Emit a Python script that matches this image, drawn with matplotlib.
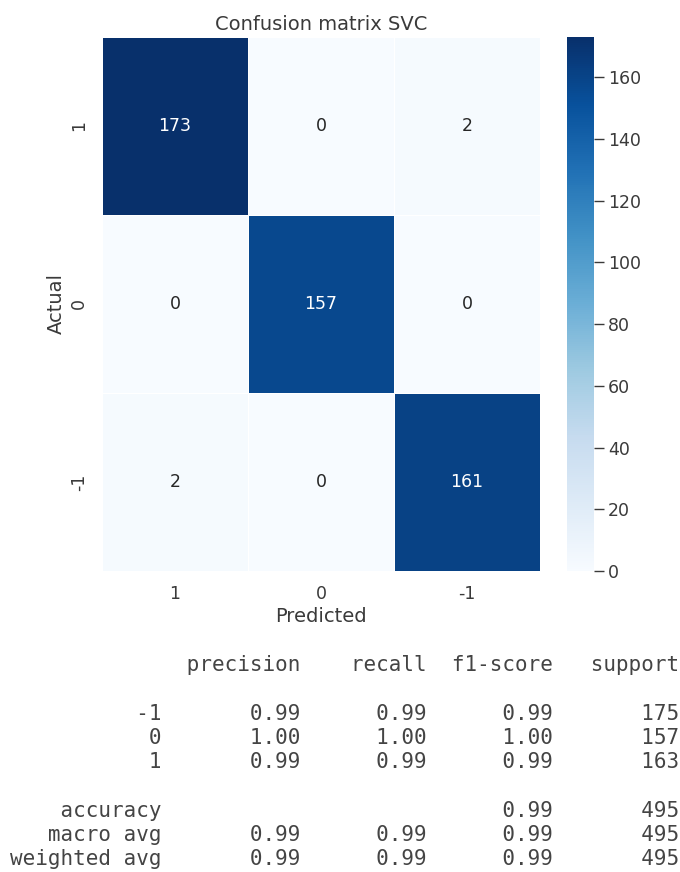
import matplotlib
matplotlib.use("Agg")
import matplotlib.pyplot as plt
import seaborn as sns
import numpy as np

# confusion matrix (rows = actual, cols = predicted)
labels = ["1", "0", "-1"]
cm = [[173, 0, 2],
      [0, 157, 0],
      [2, 0, 161]]

# classification report values
report_classes = ["-1", "0", "1"]
precision = [0.99, 1.00, 0.99]
recall = [0.99, 1.00, 0.99]
f1_score = [0.99, 1.00, 0.99]
support = [175, 157, 163]
accuracy = 0.99
macro_avg = [0.99, 0.99, 0.99]
weighted_avg = [0.99, 0.99, 0.99]
total = 495

sns.set_theme(style="white")
plt.rcParams['font.family'] = ['DejaVu Sans']

fig = plt.figure(figsize=(6.8, 8.72), dpi=100)
ax = fig.add_axes([0.150, 0.3452, 0.644, 0.6124])
cax = fig.add_axes([0.8338, 0.3452, 0.0397, 0.6124])

sns.heatmap(np.array(cm), annot=True, fmt="d", cmap="Blues", ax=ax, cbar_ax=cax,
            xticklabels=labels, yticklabels=labels, linewidths=0.5, linecolor="white",
            annot_kws={"fontsize": 12.5})
ax.set_title("Confusion matrix SVC", fontsize=14, color="#3a3a3a", pad=5)
ax.set_xlabel("Predicted", fontsize=14, color="#3a3a3a", labelpad=3)
ax.set_ylabel("Actual", fontsize=14, color="#3a3a3a", labelpad=3)
ax.tick_params(axis="both", length=0, labelsize=12.5, colors="#3a3a3a", pad=10)
plt.setp(ax.get_yticklabels(), rotation=90, va="center")
cax.tick_params(labelsize=12.5, colors="#3a3a3a", length=7, width=1, pad=3)
cax.set_yticks(np.arange(0, 161, 20))

# text report below the figure, sklearn style
row_fmt = "{:>12}  {:>9} {:>9} {:>9} {:>9}"
lines = [row_fmt.format("", "precision", "recall", "f1-score", "support"), ""]
for c, p, r, f, s in zip(report_classes, precision, recall, f1_score, support):
    lines.append(row_fmt.format(c, f"{p:.2f}", f"{r:.2f}", f"{f:.2f}", s))
lines.append("")
lines.append(row_fmt.format("accuracy", "", "", f"{accuracy:.2f}", total))
lines.append(row_fmt.format("macro avg", *[f"{v:.2f}" for v in macro_avg], total))
lines.append(row_fmt.format("weighted avg", *[f"{v:.2f}" for v in weighted_avg], total))

y0 = 671
step = 24.25
for i, ln in enumerate(lines):
    fig.text(10 / 680, 1 - (y0 + i * step) / 872, ln, family="DejaVu Sans Mono",
             fontsize=15, color="#444444", va="baseline", ha="left")

fig.savefig("out.png", dpi=100, facecolor="white")
